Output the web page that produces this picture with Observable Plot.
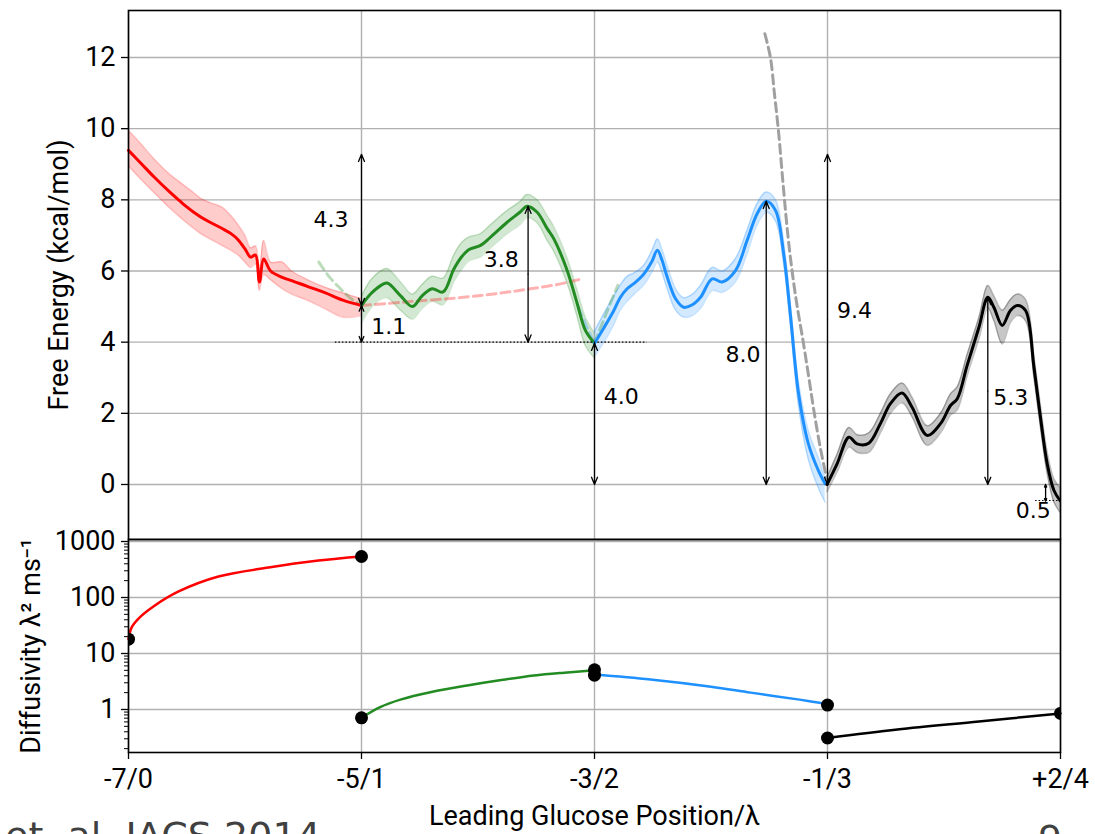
<!DOCTYPE html>
<html><head><meta charset="utf-8">
<script src="https://cdn.jsdelivr.net/npm/d3@7"></script>
<script src="https://cdn.jsdelivr.net/npm/@observablehq/plot@0.6"></script>
<style>
html,body{margin:0;padding:0;width:1095px;height:834px;overflow:hidden;background:#fff;}
#top,#bot,#over{position:absolute;left:0;}
#top{top:0px} #bot{top:539px} #over{top:0px;pointer-events:none}
</style></head><body>
<div id="top"></div><div id="bot"></div>
<svg id="over" width="1095" height="834">
  <text x="5" y="849" font-family="DejaVu Sans" font-size="38" fill="#404040">et. al. JACS 2014</text>
  <text x="1038" y="852" font-family="DejaVu Sans" font-size="38" fill="#404040">9</text>
</svg>
<script>
// ---- axes / ticks ----
const posTicks = [0, 1, 2, 3, 4];
const posLabels = ["-7/0", "-5/1", "-3/2", "-1/3", "+2/4"];
const feTicks = [0, 2, 4, 6, 8, 10, 12];
const dTicks = [1, 10, 100, 1000];
const dMinor = [0.2,0.3,0.4,0.5,0.6,0.7,0.8,0.9,2,3,4,5,6,7,8,9,20,30,40,50,60,70,80,90,200,300,400,500,600,700,800,900];

// ---- free energy segments ----
const redX  = [0, 0.05, 0.11, 0.18, 0.22, 0.25, 0.28, 0.31, 0.35, 0.40, 0.44, 0.47, 0.50, 0.524, 0.545, 0.562, 0.58, 0.61, 0.66, 0.70, 0.77, 0.84, 0.92, 1.0];
const redY  = [9.39, 9.05, 8.64, 8.2, 7.97, 7.8, 7.65, 7.52, 7.37, 7.2, 7.05, 6.88, 6.62, 6.39, 6.45, 5.69, 6.34, 6.0, 5.82, 5.73, 5.56, 5.40, 5.18, 5.03];
const redLo = [8.95, 8.6, 8.2, 7.75, 7.52, 7.35, 7.2, 7.05, 6.9, 6.72, 6.58, 6.45, 6.25, 6.1, 6.2, 5.45, 5.9, 5.75, 5.5, 5.35, 5.17, 4.95, 4.7, 4.75];
const redHi = [9.95, 9.6, 9.15, 8.7, 8.5, 8.35, 8.2, 8.04, 7.92, 7.8, 7.55, 7.3, 7.0, 6.65, 6.7, 6.0, 6.86, 6.25, 6.25, 6.0, 5.75, 5.55, 5.38, 5.22];

const greenX  = [1.0, 1.04, 1.082, 1.11, 1.167, 1.218, 1.26, 1.303, 1.35, 1.396, 1.43, 1.46, 1.511, 1.554, 1.625, 1.68, 1.711, 1.754, 1.797, 1.825, 1.883, 1.926, 1.961, 2.0];
const greenY  = [5.03, 5.36, 5.59, 5.66, 5.31, 5.0, 5.3, 5.50, 5.41, 6.05, 6.4, 6.6, 6.72, 6.95, 7.37, 7.65, 7.82, 7.65, 7.19, 6.91, 6.01, 5.08, 4.33, 3.97];
const greenLo = [4.55, 4.95, 5.2, 5.25, 4.9, 4.65, 4.95, 5.15, 5.05, 5.7, 6.05, 6.28, 6.4, 6.65, 7.05, 7.3, 7.5, 7.35, 6.85, 6.55, 5.65, 4.7, 3.9, 3.55];
const greenHi = [5.3, 5.75, 6.0, 6.07, 5.7, 5.35, 5.62, 5.85, 5.8, 6.45, 6.8, 6.95, 7.05, 7.3, 7.7, 7.95, 8.15, 8.0, 7.55, 7.25, 6.35, 5.45, 4.7, 4.25];

const blueX  = [2.0, 2.04, 2.083, 2.11, 2.14, 2.17, 2.21, 2.245, 2.27, 2.29, 2.312, 2.348, 2.383, 2.42, 2.455, 2.505, 2.548, 2.605, 2.655, 2.698, 2.737, 2.777, 2.812, 2.841, 2.876, 2.918, 2.961, 2.99];
const blueY  = [3.97, 4.4, 4.89, 5.25, 5.5, 5.65, 5.9, 6.25, 6.58, 6.3, 5.83, 5.22, 4.98, 5.05, 5.26, 5.78, 5.69, 6.01, 6.86, 7.61, 7.96, 7.70, 6.48, 4.75, 2.55, 1.14, 0.39, 0.02];
const blueLo = [3.6, 4.0, 4.5, 4.9, 5.15, 5.35, 5.6, 5.95, 6.25, 5.95, 5.5, 4.9, 4.7, 4.75, 4.95, 5.45, 5.4, 5.7, 6.5, 7.3, 7.65, 7.4, 6.2, 4.45, 2.2, 0.7, -0.1, -0.5];
const blueHi = [4.3, 4.8, 5.3, 5.6, 5.85, 5.95, 6.15, 6.55, 6.9, 6.6, 6.15, 5.5, 5.25, 5.35, 5.6, 6.1, 6.0, 6.35, 7.15, 7.9, 8.22, 8.0, 6.8, 5.05, 2.85, 1.5, 0.75, 0.15];

const blackX  = [2.998, 3.041, 3.092, 3.127, 3.177, 3.227, 3.27, 3.32, 3.363, 3.428, 3.485, 3.528, 3.557, 3.599, 3.65, 3.688, 3.714, 3.75, 3.785, 3.814, 3.85, 3.886, 3.914, 3.943, 3.972, 4.0];
const blackY  = [0.0, 0.58, 1.33, 1.14, 1.16, 1.71, 2.27, 2.57, 2.17, 1.38, 1.71, 2.22, 2.41, 3.34, 4.42, 5.26, 4.98, 4.47, 4.89, 5.03, 4.89, 3.30, 1.89, 0.58, -0.17, -0.47];
const blackLo = [-0.2, 0.35, 1.05, 0.9, 0.9, 1.45, 2.0, 2.3, 1.9, 1.1, 1.45, 1.95, 2.1, 3.05, 4.1, 4.95, 4.6, 3.95, 4.55, 4.75, 4.6, 3.0, 1.6, 0.3, -0.5, -0.8];
const blackHi = [0.2, 0.85, 1.6, 1.4, 1.45, 2.0, 2.55, 2.85, 2.45, 1.65, 2.0, 2.55, 2.75, 3.65, 4.7, 5.59, 5.3, 4.9, 5.2, 5.35, 5.2, 3.6, 2.2, 0.9, 0.15, -0.1];

// dashed extensions
const redDashX   = [1.0, 1.12, 1.224, 1.37, 1.511, 1.62, 1.725, 1.84, 1.947];
const redDashY   = [5.03, 5.09, 5.15, 5.22, 5.31, 5.4, 5.5, 5.62, 5.78];
const greenDashX = [0.817, 0.86, 0.91, 0.96, 1.0];
const greenDashY = [6.25, 5.85, 5.5, 5.2, 5.05];
const blueDashX  = [1.93, 1.965, 2.0];
const blueDashY  = [4.98, 4.45, 3.97];
const greenDash2X = [2.0, 2.05, 2.1];
const greenDash2Y = [3.97, 4.8, 5.6];
const grayDashX  = [2.731, 2.755, 2.772, 2.79, 2.81, 2.83, 2.848, 2.87, 2.896, 2.92, 2.941, 2.97, 2.999];
const grayDashY  = [12.67, 12.0, 11.0, 9.9, 8.4, 7.0, 6.0, 5.0, 4.0, 3.0, 2.1, 1.0, 0.1];

// annotation arrows (double headed)
const arrowX    = [1, 1, 1.715, 2, 2.737, 3, 3.688, 3.936];
const arrowFrom = [5.03, 4.0, 4.0, 0, 0, 0, 0, -0.47];
const arrowTo   = [9.28, 5.03, 7.82, 3.97, 7.96, 9.28, 5.26, 0];
const annoText  = ["4.3", "1.1", "3.8", "4.0", "8.0", "9.4", "5.3", "0.5"];
const annoX     = [0.944, 1.042, 1.675, 2.04, 2.712, 3.041, 3.711, 3.883];
const annoY     = [7.43, 4.44, 6.31, 2.45, 3.63, 4.87, 2.42, -0.73];
const annoAlign = ["end", "start", "end", "start", "end", "start", "start", "middle"];
// dotted reference levels
const dotLevel = [4.0, -0.45];
const dotFrom  = [0.888, 3.893];
const dotTo    = [2.226, 4.0];

// ---- diffusivity ----
const redDX   = [0, 0.013, 0.043, 0.107, 0.215, 0.386, 0.601, 0.815, 1.0];
const redD    = [18, 29, 42, 69, 128, 237, 343, 457, 540];
const greenDX = [1, 1.08, 1.167, 1.3, 1.454, 1.6, 1.74, 1.87, 2.0];
const greenD  = [0.71, 1.1, 1.5, 2.05, 2.68, 3.35, 4.05, 4.55, 5.0];
const blueDX  = [2, 2.24, 2.5, 2.67, 2.88, 3.0];
const blueD   = [4.2, 3.43, 2.55, 2.0, 1.5, 1.25];
const blackDX = [3, 3.3, 3.65, 4.0];
const blackD  = [0.31, 0.44, 0.61, 0.85];
const dotX = [0, 1, 1, 2, 2, 3, 3, 4];
const dotY = [18, 540, 0.71, 5.1, 4.1, 1.2, 0.31, 0.85];

// ---- helpers ----
const seg = (xs, ys, lo, hi) => xs.map((x, i) => ({x, y: ys[i], lo: lo ? lo[i] : null, hi: hi ? hi[i] : null}));
const pts = (xs, ys) => xs.map((x, i) => ({x, y: ys[i]}));
const curve = "catmull-rom";

function bandMarks(data, color, fillOp, edgeOp) {
  return [
    Plot.areaY(data, {x: "x", y1: "lo", y2: "hi", fill: color, fillOpacity: fillOp, curve, clip: true}),
    Plot.line(data, {x: "x", y: "lo", stroke: color, strokeOpacity: edgeOp, strokeWidth: 1.5, curve, clip: true}),
    Plot.line(data, {x: "x", y: "hi", stroke: color, strokeOpacity: edgeOp, strokeWidth: 1.5, curve, clip: true})
  ];
}

const red = seg(redX, redY, redLo, redHi);
const green = seg(greenX, greenY, greenLo, greenHi);
const blue = seg(blueX, blueY, blueLo, blueHi);
const black = seg(blackX, blackY, blackLo, blackHi);

const arrowHalves = [];
arrowX.forEach((x, i) => {
  const m = (arrowFrom[i] + arrowTo[i]) / 2;
  arrowHalves.push({x, m, e: arrowFrom[i]});
  arrowHalves.push({x, m, e: arrowTo[i]});
});
const annos = annoText.map((t, i) => ({t, x: annoX[i], y: annoY[i], a: annoAlign[i]}));
const dots = dotLevel.map((y, i) => ({y, x1: dotFrom[i], x2: dotTo[i]}));

const dash = "9,5";
const annoFont = "DejaVu Sans";
const tickFont = 27;

const topPlot = Plot.plot({
  width: 1095, height: 539,
  marginTop: 10, marginBottom: 0, marginLeft: 128, marginRight: 35,
  x: {domain: [0, 4], axis: null},
  y: {domain: [-1.546, 13.321], axis: null},
  style: {fontFamily: "Roboto", fontSize: tickFont + "px", background: "transparent", overflow: "visible", color: "black"},
  marks: [
    Plot.gridX({ticks: posTicks, stroke: "#b0b0b0", strokeOpacity: 1, strokeWidth: 1.4}),
    Plot.gridY({ticks: feTicks, stroke: "#b0b0b0", strokeOpacity: 1, strokeWidth: 1.4}),
    ...bandMarks(red, "#ff0000", 0.2, 0.2),
    ...bandMarks(green, "#228b22", 0.2, 0.2),
    ...bandMarks(blue, "#1e90ff", 0.2, 0.25),
    ...bandMarks(black, "#000000", 0.22, 0.25),
    Plot.line(pts(redDashX, redDashY), {x: "x", y: "y", stroke: "#ff0000", strokeOpacity: 0.3, strokeWidth: 3, strokeDasharray: dash, curve}),
    Plot.line(pts(greenDashX, greenDashY), {x: "x", y: "y", stroke: "#228b22", strokeOpacity: 0.3, strokeWidth: 3, strokeDasharray: dash, curve}),
    Plot.line(pts(blueDashX, blueDashY), {x: "x", y: "y", stroke: "#1e90ff", strokeOpacity: 0.3, strokeWidth: 3, strokeDasharray: dash, curve}),
    Plot.line(pts(greenDash2X, greenDash2Y), {x: "x", y: "y", stroke: "#228b22", strokeOpacity: 0.3, strokeWidth: 3, strokeDasharray: dash, curve}),
    Plot.line(pts(grayDashX, grayDashY), {x: "x", y: "y", stroke: "#a0a0a0", strokeWidth: 3, strokeDasharray: dash, curve, clip: true}),
    Plot.line(red, {x: "x", y: "y", stroke: "#ff0000", strokeWidth: 3, curve}),
    Plot.line(green, {x: "x", y: "y", stroke: "#228b22", strokeWidth: 3, curve}),
    Plot.line(blue, {x: "x", y: "y", stroke: "#1e90ff", strokeWidth: 3, curve}),
    Plot.line(black, {x: "x", y: "y", stroke: "#000000", strokeWidth: 3, curve, clip: true}),
    Plot.ruleY(dots, {y: "y", x1: "x1", x2: "x2", stroke: "black", strokeWidth: 1.2, strokeDasharray: "1.5,2"}),
    Plot.arrow(arrowHalves, {x1: "x", x2: "x", y1: "m", y2: "e", stroke: "black", strokeWidth: 1.3, headLength: 9, headAngle: 45}),
    Plot.text(annos.filter(d => d.a === "end"), {x: "x", y: "y", text: "t", textAnchor: "end", fontFamily: annoFont, fontSize: 22, fill: "black"}),
    Plot.text(annos.filter(d => d.a === "start"), {x: "x", y: "y", text: "t", textAnchor: "start", fontFamily: annoFont, fontSize: 22, fill: "black"}),
    Plot.text(annos.filter(d => d.a === "middle"), {x: "x", y: "y", text: "t", textAnchor: "middle", fontFamily: annoFont, fontSize: 22, fill: "black"}),
    Plot.frame({stroke: "black", strokeWidth: 1.6}),
    Plot.axisY({ticks: feTicks, tickSize: 7, tickPadding: 6, tickFormat: d => String(d), label: null, fontSize: tickFont, stroke: "black", strokeWidth: 1.3}),
    Plot.text(["Free Energy (kcal/mol)"], {frameAnchor: "left", textAnchor: "middle", dx: -69, rotate: -90, text: d => d, fontSize: 27, fontFamily: "Roboto", fill: "black"})
  ]
});
document.getElementById("top").appendChild(topPlot);

const botPlot = Plot.plot({
  width: 1095, height: 295,
  marginTop: 0, marginBottom: 82, marginLeft: 128, marginRight: 35,
  x: {domain: [0, 4], axis: null},
  y: {type: "log", domain: [0.1706, 1085.6], axis: null},
  style: {fontFamily: "Roboto", fontSize: tickFont + "px", background: "transparent", overflow: "visible", color: "black"},
  marks: [
    Plot.gridX({ticks: posTicks, stroke: "#b0b0b0", strokeOpacity: 1, strokeWidth: 1.4}),
    Plot.gridY({ticks: dTicks, stroke: "#b0b0b0", strokeOpacity: 1, strokeWidth: 1.4}),
    Plot.line(pts(redDX, redD), {x: "x", y: "y", stroke: "#ff0000", strokeWidth: 2.5, curve}),
    Plot.line(pts(greenDX, greenD), {x: "x", y: "y", stroke: "#228b22", strokeWidth: 2.5, curve}),
    Plot.line(pts(blueDX, blueD), {x: "x", y: "y", stroke: "#1e90ff", strokeWidth: 2.5, curve}),
    Plot.line(pts(blackDX, blackD), {x: "x", y: "y", stroke: "#000000", strokeWidth: 2.5, curve}),
    Plot.dot(pts(dotX, dotY), {x: "x", y: "y", r: 6.5, fill: "black", stroke: "none", clip: true}),
    Plot.frame({stroke: "black", strokeWidth: 1.6}),
    Plot.axisY({ticks: dMinor, tickSize: 4, tickFormat: () => "", label: null, stroke: "black", strokeWidth: 1}),
    Plot.axisY({ticks: dTicks, tickSize: 7, tickPadding: 6, tickFormat: d => String(d), label: null, fontSize: tickFont, stroke: "black", strokeWidth: 1.3}),
    Plot.axisX({ticks: posTicks, tickSize: 7, tickPadding: 9, tickFormat: d => posLabels[posTicks.indexOf(d)], label: null, fontSize: tickFont, stroke: "black", strokeWidth: 1.3}),
    Plot.text(["Diffusivity λ² ms⁻¹"], {frameAnchor: "left", textAnchor: "middle", dx: -97, rotate: -90, text: d => d, fontSize: 27, fontFamily: "Roboto", fill: "black"}),
    Plot.text(["Leading Glucose Position/λ"], {frameAnchor: "bottom", textAnchor: "middle", dy: 72, text: d => d, fontSize: 27, fontFamily: "Roboto", fill: "black"})
  ]
});
document.getElementById("bot").appendChild(botPlot);
</script>
</body></html>
